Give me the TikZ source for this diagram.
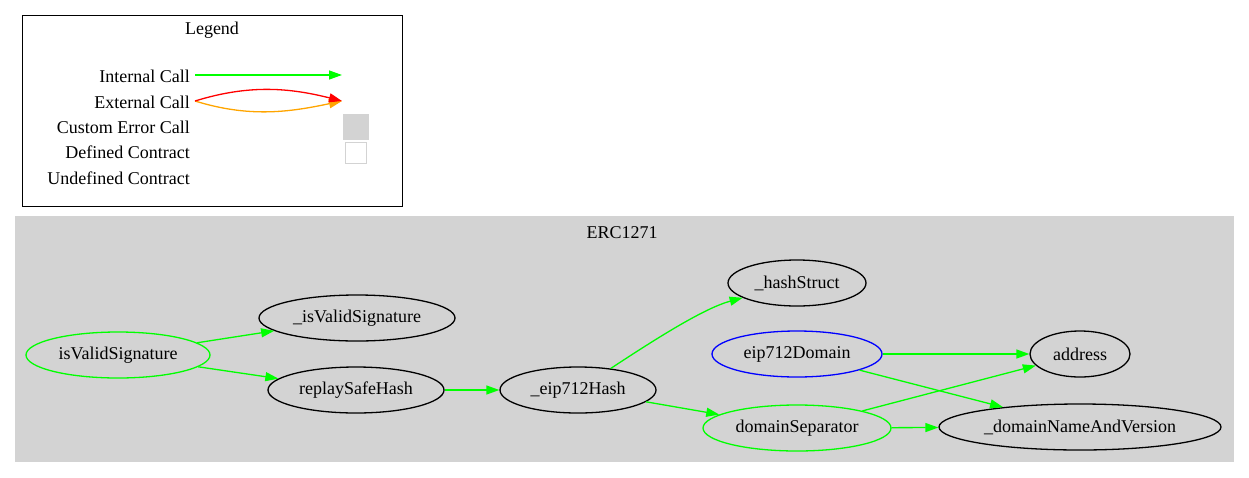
\documentclass[tikz,border=0pt]{standalone}
\usepackage{fontspec}
\setmainfont{Liberation Serif}
\usetikzlibrary{shapes.geometric,arrows.meta}
\definecolor{lgray}{HTML}{D3D3D3}
\definecolor{callgreen}{HTML}{00FF00}
\definecolor{extorange}{HTML}{FFA500}
\tikzset{
  fn/.style={draw=black, ellipse, line width=1.3pt, inner sep=0pt, font=\fontsize{18}{20}\selectfont},
  lbl/.style={font=\fontsize{18}{20}\selectfont, inner sep=0pt},
  tip/.style={-{Triangle[length=13pt,width=9pt]}},
  call/.style={draw=callgreen, line width=1.3pt, tip},
}
\begin{document}
\begin{tikzpicture}[x=1pt,y=-1pt]
\useasboundingbox (0,0) rectangle (1249,477);
% legend
\draw[line width=1pt] (22,15) rectangle (402,206);
\node[lbl] (legtitle) at (212,30) {Legend};
\node[lbl, anchor=east] (lint) at (190,76) {Internal Call};
\node[lbl, anchor=east] (lext) at (190,102) {External Call};
\node[lbl, anchor=east] (lerr) at (190,127) {Custom Error Call};
\node[lbl, anchor=east] (ldef) at (190,152) {Defined Contract};
\node[lbl, anchor=east] (lund) at (190,178) {Undefined Contract};
\coordinate (ia) at (195,75);
\coordinate (ib) at (342,75);
\coordinate (ea) at (195,101);
\coordinate (eb) at (342,101);
\draw[call] (ia) -- (ib);
\draw[draw=extorange, line width=1.3pt, tip] (ea) .. controls (250,118) and (290,112) .. (eb);
\draw[draw=red, line width=1.3pt, tip] (ea) .. controls (250,84) and (290,88) .. (eb);
\node[draw=lgray, fill=lgray, minimum width=25pt, minimum height=25pt, inner sep=0pt] (errbox) at (356,127) {};
\node[draw=lgray, fill=white, line width=1.3pt, minimum width=21pt, minimum height=21pt, inner sep=0pt] (defbox) at (356,153) {};
% cluster
\fill[lgray] (15,216) rectangle (1234,462);
\node[lbl] (cl) at (622,233) {ERC1271};
% nodes
\node[fn, draw=callgreen, minimum width=184pt, minimum height=46pt] (ivs) at (118,355) {isValidSignature};
\node[fn, minimum width=196pt, minimum height=46pt] (ivs2) at (357,318) {\_isValidSignature};
\node[fn, minimum width=176pt, minimum height=46pt] (rsh) at (356,390) {replaySafeHash};
\node[fn, minimum width=156pt, minimum height=46pt] (e7) at (578,390) {\_eip712Hash};
\node[fn, minimum width=138pt, minimum height=46pt] (hs) at (797,283) {\_hashStruct};
\node[fn, draw=blue, minimum width=170pt, minimum height=46pt] (ed) at (797,354) {eip712Domain};
\node[fn, draw=callgreen, minimum width=188pt, minimum height=46pt] (ds) at (797,428) {domainSeparator};
\node[fn, minimum width=100pt, minimum height=46pt] (addr) at (1080,354) {address};
\node[fn, minimum width=282pt, minimum height=46pt] (dnv) at (1080,427) {\_domainNameAndVersion};
% edges
\draw[call] (ivs) -- (ivs2);
\draw[call] (ivs) -- (rsh);
\draw[call] (rsh) -- (e7);
\draw[call] (e7) .. controls (660,336) and (705,308) .. (hs);
\draw[call] (e7) -- (ds);
\draw[call] (ed) -- (addr);
\draw[call] (ed) -- (dnv);
\draw[call] (ds) -- (addr);
\draw[call] (ds) -- (dnv);
\end{tikzpicture}
\end{document}
